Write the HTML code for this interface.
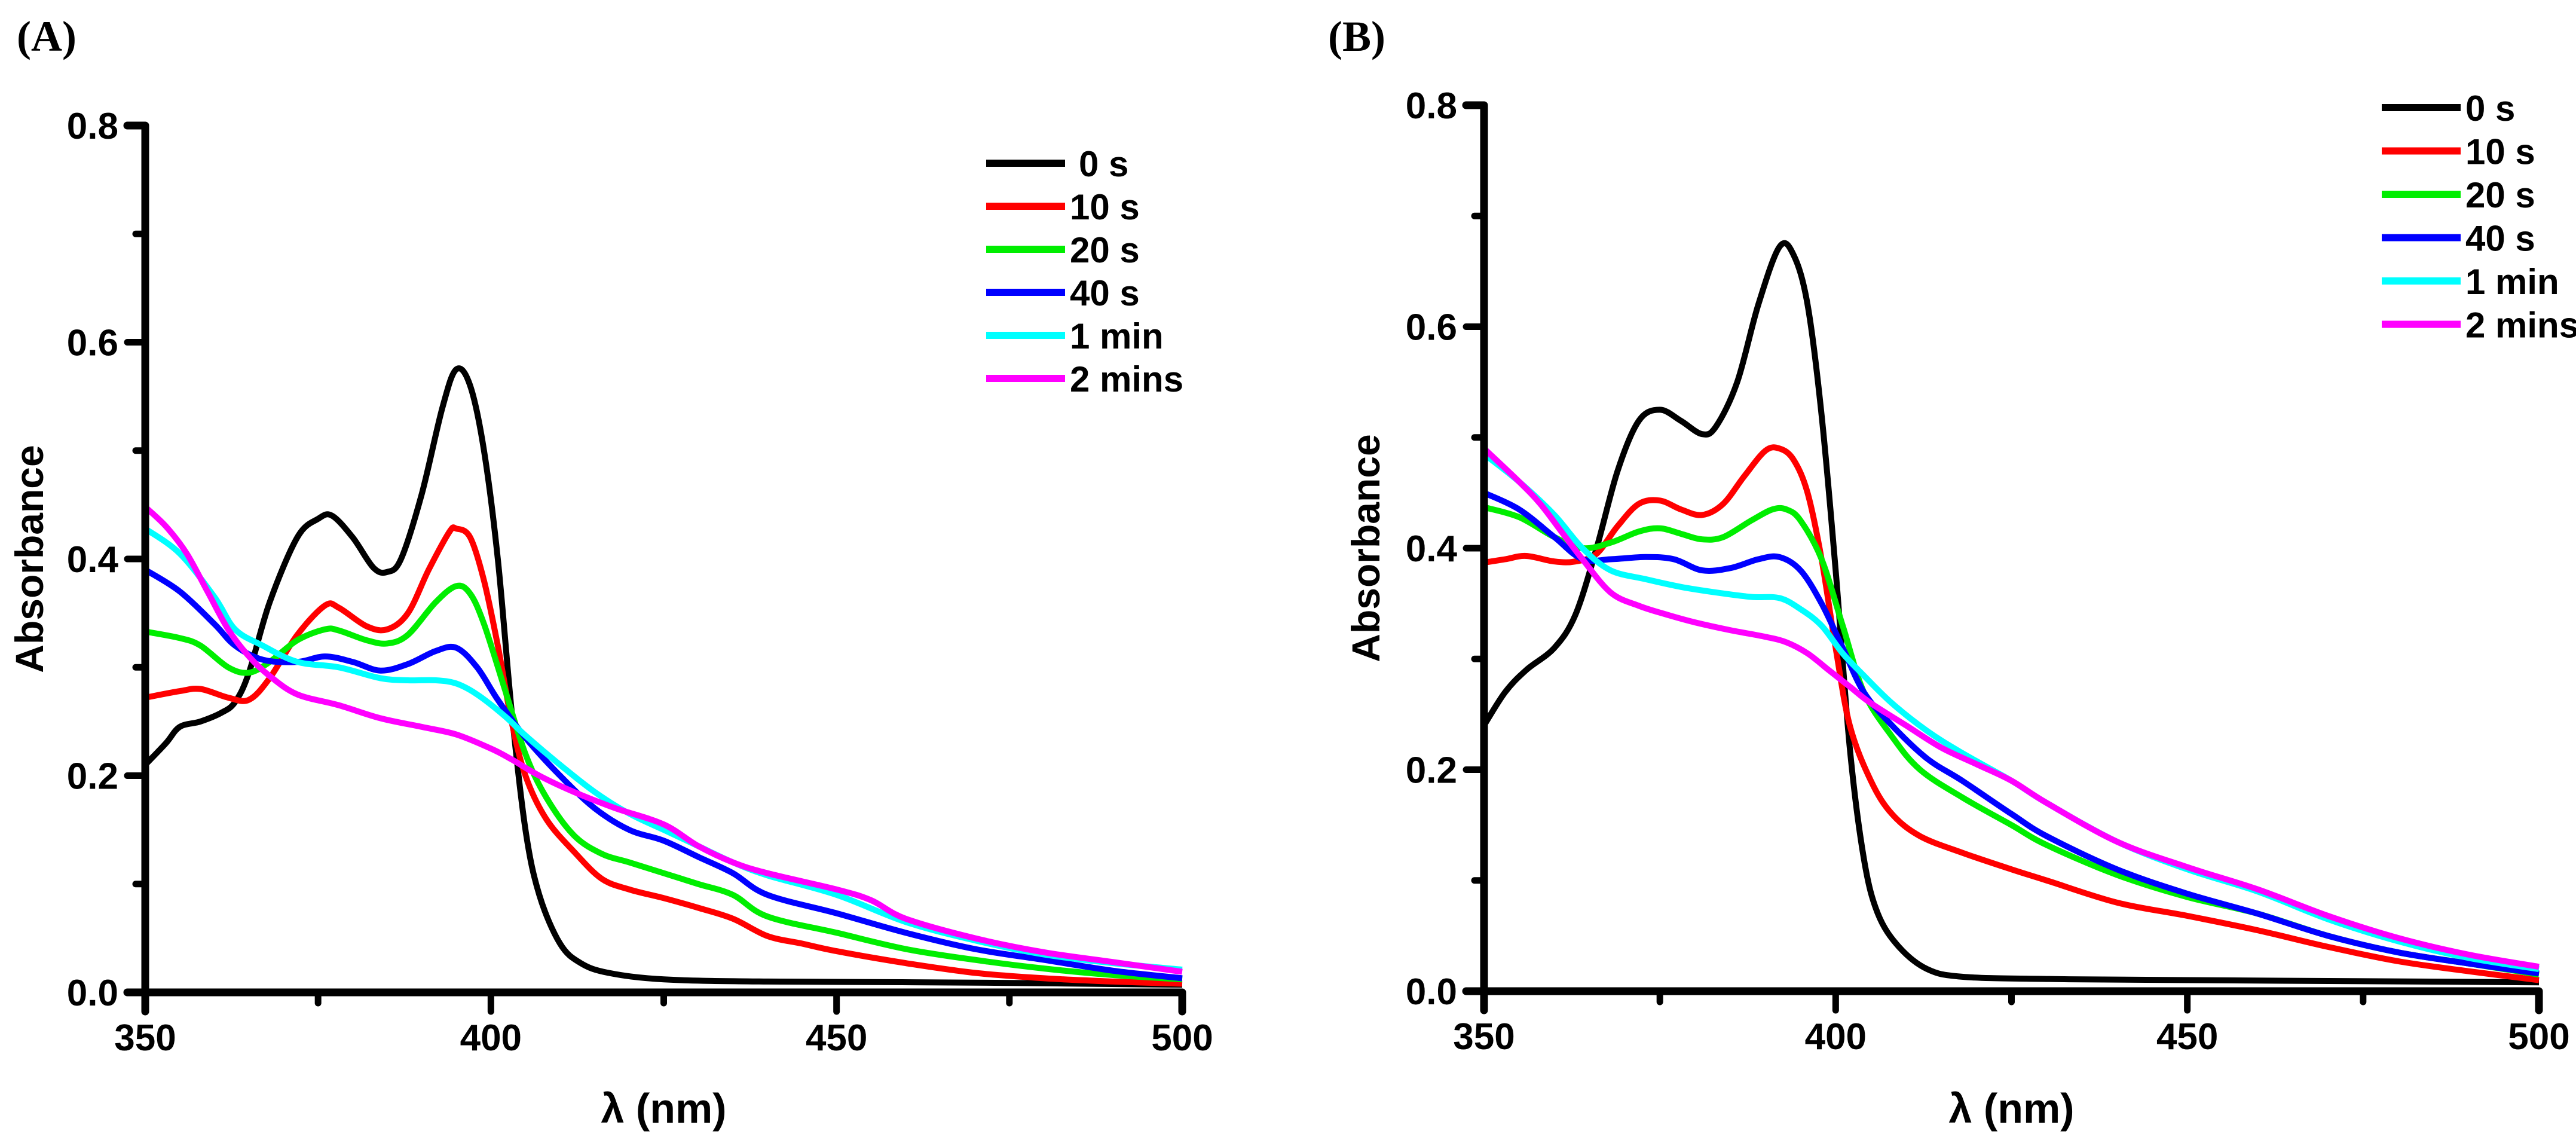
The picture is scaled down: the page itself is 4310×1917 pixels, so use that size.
<!DOCTYPE html>
<html><head><meta charset="utf-8"><style>
html,body{margin:0;padding:0;background:#fff;}
svg{display:block;font-family:"Liberation Sans",sans-serif;}
</style></head><body>
<svg id="fig" width="4310" height="1917" viewBox="0 0 4310 1917">
<text x="28" y="85" font-family="Liberation Serif" font-weight="bold" font-size="72">(A)</text>
<text x="2222" y="85" font-family="Liberation Serif" font-weight="bold" font-size="72">(B)</text>
<g id="pa"></g>
<g id="pb"></g>
</svg>
<script>
const seriesNames = ["0 s","10 s","20 s","40 s","1 min","2 mins"];
const seriesColors = ["#000000","#ff0000","#00ee00","#0000ff","#00ffff","#ff00ff"];
const xTicks = [350,400,450,500];
const yTicks = [0.0,0.2,0.4,0.6,0.8];
const yTickLabels = ["0.0","0.2","0.4","0.6","0.8"];

const a0 = [[350,0.21],[353,0.23],[355,0.245],[358,0.25],[361,0.258],[363,0.268],[365,0.295],[368,0.36],[372,0.42],[375,0.437],[377,0.44],[380,0.42],[383,0.392],[385,0.388],[387,0.4],[390,0.46],[393,0.54],[395,0.575],[397,0.56],[399,0.5],[401,0.4],[403,0.26],[405,0.15],[407,0.09],[410,0.045],[413,0.027],[417,0.018],[425,0.012],[440,0.01],[470,0.009],[500,0.007]];
const a10 = [[350,0.272],[355,0.278],[358,0.28],[362,0.272],[365,0.27],[368,0.29],[372,0.33],[376,0.357],[378,0.355],[382,0.338],[385,0.335],[388,0.35],[391,0.39],[394,0.425],[395,0.428],[397,0.42],[399,0.38],[401,0.32],[403,0.25],[405,0.2],[408,0.16],[412,0.13],[416,0.105],[420,0.095],[425,0.087],[430,0.078],[435,0.068],[440,0.052],[445,0.045],[450,0.038],[460,0.027],[470,0.018],[480,0.013],[490,0.01],[500,0.008]];
const a20 = [[350,0.333],[355,0.327],[358,0.32],[362,0.3],[365,0.295],[368,0.305],[372,0.325],[376,0.335],[378,0.334],[382,0.325],[385,0.322],[388,0.33],[392,0.36],[395,0.375],[397,0.368],[399,0.34],[402,0.28],[405,0.22],[408,0.18],[412,0.145],[416,0.128],[420,0.12],[425,0.11],[430,0.1],[435,0.09],[440,0.07],[450,0.055],[460,0.04],[470,0.03],[480,0.022],[490,0.016],[500,0.012]];
const a40 = [[350,0.39],[355,0.37],[360,0.34],[363,0.32],[367,0.307],[372,0.305],[376,0.31],[380,0.305],[384,0.297],[388,0.303],[392,0.315],[395,0.318],[398,0.3],[401,0.27],[405,0.235],[410,0.2],[415,0.17],[420,0.15],[425,0.14],[430,0.125],[435,0.11],[440,0.09],[450,0.073],[460,0.055],[470,0.04],[480,0.03],[490,0.02],[500,0.013]];
const a60 = [[350,0.428],[355,0.405],[360,0.365],[363,0.335],[367,0.32],[372,0.305],[378,0.3],[384,0.29],[388,0.288],[392,0.288],[395,0.285],[398,0.275],[402,0.255],[405,0.237],[410,0.21],[415,0.185],[420,0.165],[425,0.15],[430,0.135],[435,0.12],[440,0.108],[450,0.09],[460,0.065],[470,0.048],[480,0.035],[490,0.027],[500,0.021]];
const a120 = [[350,0.448],[353,0.43],[356,0.405],[359,0.37],[362,0.335],[365,0.31],[368,0.292],[372,0.275],[378,0.265],[384,0.253],[390,0.245],[395,0.238],[400,0.225],[403,0.215],[407,0.2],[412,0.185],[418,0.17],[425,0.155],[430,0.135],[435,0.12],[440,0.11],[450,0.095],[455,0.085],[460,0.068],[470,0.05],[480,0.037],[490,0.028],[500,0.019]];

const b0 = [[350,0.24],[353,0.27],[356,0.29],[360,0.31],[363,0.34],[366,0.4],[369,0.47],[372,0.515],[375,0.525],[378,0.515],[381,0.503],[383,0.51],[386,0.55],[389,0.62],[392,0.672],[394,0.665],[396,0.62],[398,0.52],[400,0.38],[402,0.22],[404,0.12],[406,0.07],[409,0.04],[413,0.02],[418,0.013],[430,0.011],[450,0.01],[500,0.008]];
const b10 = [[350,0.387],[353,0.39],[356,0.393],[360,0.388],[363,0.388],[366,0.395],[369,0.42],[372,0.44],[375,0.443],[378,0.435],[381,0.43],[384,0.44],[387,0.465],[390,0.488],[392,0.49],[394,0.48],[396,0.45],[398,0.39],[400,0.31],[402,0.24],[405,0.19],[408,0.16],[412,0.14],[418,0.125],[425,0.11],[430,0.1],[440,0.08],[450,0.068],[460,0.055],[470,0.04],[480,0.027],[490,0.018],[500,0.01]];
const b20 = [[350,0.437],[355,0.428],[360,0.41],[364,0.4],[368,0.405],[372,0.415],[375,0.418],[378,0.413],[381,0.408],[384,0.41],[388,0.425],[391,0.435],[393,0.435],[395,0.425],[398,0.39],[401,0.33],[404,0.27],[408,0.23],[412,0.2],[418,0.175],[425,0.15],[430,0.132],[440,0.105],[450,0.085],[460,0.07],[470,0.05],[480,0.035],[490,0.025],[500,0.015]];
const b40 = [[350,0.45],[355,0.435],[360,0.41],[364,0.39],[368,0.39],[373,0.392],[377,0.39],[381,0.38],[385,0.382],[389,0.39],[392,0.392],[395,0.38],[398,0.35],[401,0.31],[404,0.27],[408,0.24],[413,0.21],[418,0.19],[425,0.16],[430,0.14],[440,0.11],[450,0.088],[460,0.07],[470,0.05],[480,0.035],[490,0.025],[500,0.016]];
const b60 = [[350,0.485],[355,0.46],[360,0.43],[364,0.4],[368,0.38],[373,0.372],[378,0.365],[383,0.36],[388,0.356],[392,0.355],[395,0.345],[398,0.33],[401,0.305],[404,0.285],[408,0.26],[413,0.235],[418,0.215],[425,0.19],[430,0.17],[440,0.135],[450,0.11],[460,0.09],[470,0.065],[480,0.045],[490,0.03],[500,0.02]];
const b120 = [[350,0.49],[355,0.46],[358,0.44],[361,0.415],[364,0.39],[368,0.36],[372,0.348],[376,0.34],[380,0.333],[385,0.326],[390,0.32],[393,0.315],[396,0.305],[399,0.29],[402,0.275],[405,0.26],[410,0.24],[415,0.22],[420,0.205],[425,0.19],[430,0.17],[440,0.135],[450,0.112],[460,0.092],[470,0.068],[480,0.048],[490,0.033],[500,0.022]];

const NS = "http://www.w3.org/2000/svg";
function el(tag, attrs, parent){const e=document.createElementNS(NS,tag);for(const k in attrs)e.setAttribute(k,attrs[k]);parent.appendChild(e);return e;}
function smooth(pts){let d="M"+pts[0][0].toFixed(1)+","+pts[0][1].toFixed(1);
 for(let i=0;i<pts.length-1;i++){const p0=pts[i-1]||pts[i],p1=pts[i],p2=pts[i+1],p3=pts[i+2]||p2;
  const c1x=p1[0]+(p2[0]-p0[0])/6,c1y=p1[1]+(p2[1]-p0[1])/6,c2x=p2[0]-(p3[0]-p1[0])/6,c2y=p2[1]-(p3[1]-p1[1])/6;
  d+=" C"+c1x.toFixed(1)+","+c1y.toFixed(1)+" "+c2x.toFixed(1)+","+c2y.toFixed(1)+" "+p2[0].toFixed(1)+","+p2[1].toFixed(1);}
 return d;}

function panel(g, cfg, series){
 const sx=v=>cfg.x0+(v-350)/150*(cfg.x1-cfg.x0);
 const sy=v=>cfg.y0-(v/0.8)*(cfg.y0-cfg.y1);
 series.forEach((s,i)=>{
  const p=el("path",{d:smooth(s.map(q=>[sx(q[0]),sy(q[1])])),fill:"none",stroke:seriesColors[i],"stroke-width":10,"stroke-linejoin":"round","stroke-linecap":"butt"},g);
  
  
 });
 const ax=el("path",{d:`M${sx(350)-30},${sy(0.8)} H${sx(350)} V${sy(0)+32} M${sx(350)-30},${sy(0)} H${sx(500)} V${sy(0)+32}`,fill:"none",stroke:"#000","stroke-width":13,"stroke-linecap":"round","stroke-linejoin":"round"},g);
 
 
 let td="";
 xTicks.forEach(v=>{td+=`M${sx(v)},${sy(0)} V${sy(0)+32} `;});
 [375,425,475].forEach(v=>{td+=`M${sx(v)},${sy(0)} V${sy(0)+18} `;});
 yTicks.forEach(v=>{td+=`M${sx(350)},${sy(v)} H${sx(350)-30} `;});
 [0.1,0.3,0.5,0.7].forEach(v=>{td+=`M${sx(350)},${sy(v)} H${sx(350)-16} `;});
 const tk=el("path",{d:td,stroke:"#000","stroke-width":11,"stroke-linecap":"round"},g);
 
 
 xTicks.forEach(v=>{const t=el("text",{x:sx(v),y:sy(0)+97,"text-anchor":"middle","font-size":62,"font-weight":"bold"},g);t.textContent=v;
  
  });
 yTicks.forEach((v,i)=>{const t=el("text",{x:sx(350)-45,y:sy(v)+22,"text-anchor":"end","font-size":62,"font-weight":"bold"},g);t.textContent=yTickLabels[i];
  
  });
 const xl=el("text",{x:(sx(350)+sx(500))/2,y:1878,"text-anchor":"middle","font-size":70,"font-weight":"bold"},g);xl.textContent="λ (nm)";
 
 
 const ymid=(sy(0)+sy(0.8))/2;
 const yl=el("text",{x:cfg.ylx,y:ymid,"text-anchor":"middle","font-size":66,"font-weight":"bold",transform:`rotate(-90 ${cfg.ylx} ${ymid})`},g);yl.textContent="Absorbance";
 
 
 seriesNames.forEach((n,i)=>{const y=cfg.ly+i*cfg.lstep;
  const ln=el("line",{x1:cfg.lx,x2:cfg.lx+132,y1:y,y2:y,stroke:seriesColors[i],"stroke-width":12},g);
  
  
  const t=el("text",{x:cfg.lx+140+(cfg.indent0&&i===0?15:0),y:y+22,"font-size":60,"font-weight":"bold"},g);t.textContent=n;
  
  });
}
panel(document.getElementById("pa"),{x0:243,x1:1978,y0:1660,y1:210,ylx:72,lx:1650,ly:273,lstep:72,indent0:true},[a0,a10,a20,a40,a60,a120]);
panel(document.getElementById("pb"),{x0:2483,x1:4248,y0:1658,y1:176,ylx:2308,lx:3985,ly:180,lstep:72.5,indent0:false},[b0,b10,b20,b40,b60,b120]);
</script>
</body></html>
